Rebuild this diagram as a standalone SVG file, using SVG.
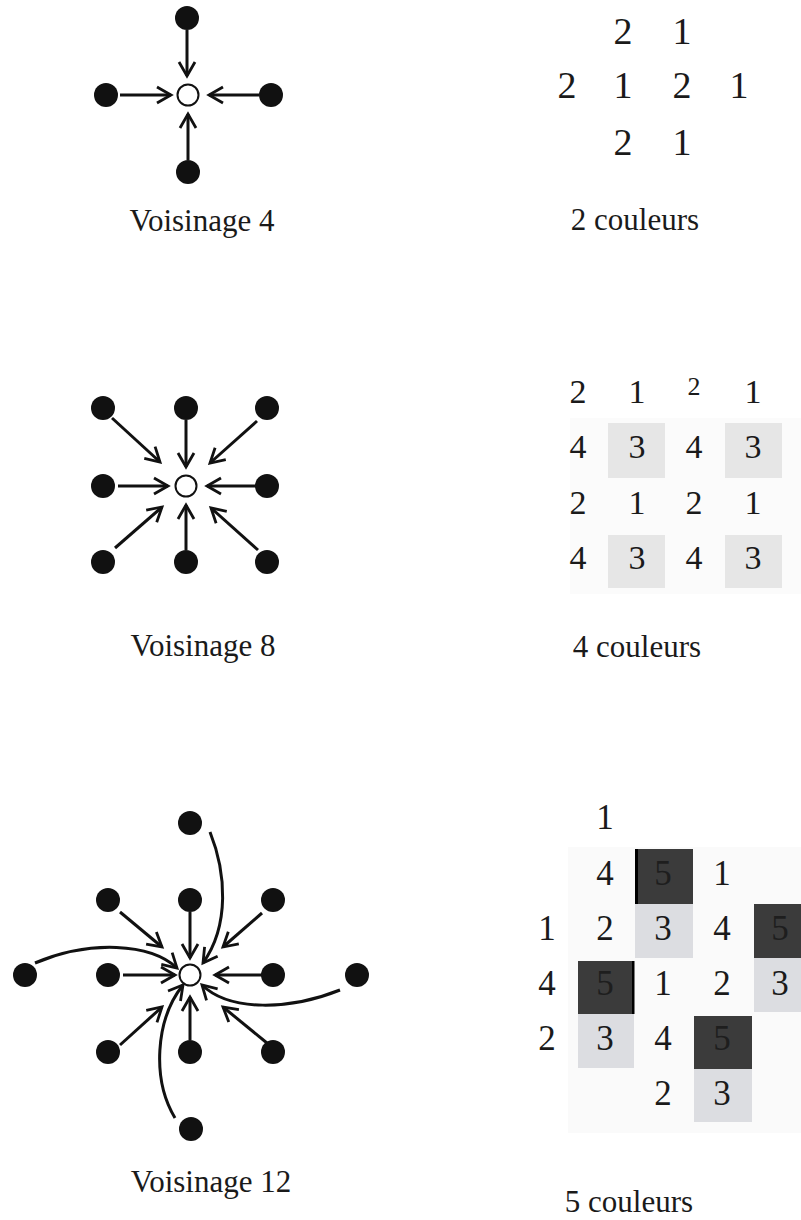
<svg xmlns="http://www.w3.org/2000/svg" width="801" height="1220" viewBox="0 0 801 1220">
<style>
.dot{fill:#111}
.ctr{fill:#fff;stroke:#111;stroke-width:2}
.lbl{font-family:"Liberation Serif",serif;font-size:31px;fill:#1a1a1a;text-anchor:middle}
.num{font-family:"Liberation Serif",serif;fill:#1a1a1a;text-anchor:middle}
.g1{font-size:38px}
.g2{font-size:34px}
.g3{font-size:35px}
.ar{fill:none;stroke:#111;stroke-width:3;marker-end:url(#ah)}
.lt{fill:#e6e6e6}
.lb{fill:#dcdde1}
.dk{fill:#3b3b3b}
</style>
<defs>
<marker id="ah" markerUnits="userSpaceOnUse" markerWidth="22" markerHeight="22" refX="17" refY="11" orient="auto">
<path d="M3 3 L17 11 L3 19" fill="none" stroke="#111" stroke-width="2.8"/>
</marker>
</defs>
<rect width="801" height="1220" fill="#fff"/>

<!-- Voisinage 4 -->
<g id="v4">
<circle class="dot" cx="187" cy="18" r="12"/>
<circle class="dot" cx="188" cy="172" r="12"/>
<circle class="dot" cx="106" cy="95" r="12"/>
<circle class="dot" cx="271" cy="95" r="12"/>
<circle class="ctr" cx="188" cy="95" r="10.5"/>
</g>
<g id="v4-connectors">
<path class="ar" d="M187 30 L187 76"/>
<path class="ar" d="M120 95 L171 95"/>
<path class="ar" d="M259 95 L209 95"/>
<path class="ar" d="M188 160 L188 114"/>
</g>
<text class="lbl" x="202" y="231">Voisinage 4</text>

<g id="grid2" class="num g1">
<text x="623" y="44">2</text><text x="682" y="44">1</text>
<text x="567" y="98">2</text><text x="623" y="98">1</text><text x="682" y="98">2</text><text x="739" y="98">1</text>
<text x="623" y="155">2</text><text x="682" y="155">1</text>
</g>
<text class="lbl" x="635" y="230">2 couleurs</text>

<!-- Voisinage 8 -->
<g id="v8">
<circle class="dot" cx="103" cy="408" r="12"/>
<circle class="dot" cx="186" cy="408" r="12"/>
<circle class="dot" cx="267" cy="408" r="12"/>
<circle class="dot" cx="103" cy="486" r="12"/>
<circle class="dot" cx="267" cy="486" r="12"/>
<circle class="dot" cx="103" cy="562" r="12"/>
<circle class="dot" cx="186" cy="562" r="12"/>
<circle class="dot" cx="267" cy="562" r="12"/>
<circle class="ctr" cx="186" cy="486" r="10.5"/>
</g>
<g id="v8-connectors">
<path class="ar" d="M112 418 L160 462"/>
<path class="ar" d="M186 420 L186 467"/>
<path class="ar" d="M257 421 L210 463"/>
<path class="ar" d="M118 486 L168 486"/>
<path class="ar" d="M256 486 L207 486"/>
<path class="ar" d="M115 548 L162 507"/>
<path class="ar" d="M186 550 L186 505"/>
<path class="ar" d="M258 550 L211 508"/>
</g>
<text class="lbl" x="203" y="656">Voisinage 8</text>

<g id="grid4">
<rect x="570" y="418" width="231" height="176" fill="#fbfbfb"/>
<rect class="lt" x="608" y="423" width="57" height="55"/>
<rect class="lt" x="725" y="423" width="57" height="55"/>
<rect class="lt" x="608" y="535" width="57" height="53"/>
<rect class="lt" x="725" y="535" width="57" height="53"/>
<g class="num g2">
<text x="578" y="403">2</text><text x="637" y="403">1</text><text x="694" y="395" style="font-size:26px">2</text><text x="753" y="403">1</text>
<text x="578" y="458">4</text><text x="637" y="458">3</text><text x="694" y="458">4</text><text x="753" y="458">3</text>
<text x="578" y="514">2</text><text x="637" y="514">1</text><text x="694" y="514">2</text><text x="753" y="514">1</text>
<text x="578" y="569">4</text><text x="637" y="569">3</text><text x="694" y="569">4</text><text x="753" y="569">3</text>
</g>
</g>
<text class="lbl" x="637" y="657">4 couleurs</text>

<!-- Voisinage 12 -->
<g id="v12">
<circle class="dot" cx="190" cy="823" r="12"/>
<circle class="dot" cx="108" cy="900" r="12"/>
<circle class="dot" cx="190" cy="900" r="12"/>
<circle class="dot" cx="273" cy="900" r="12"/>
<circle class="dot" cx="25" cy="975" r="12"/>
<circle class="dot" cx="108" cy="975" r="12"/>
<circle class="dot" cx="273" cy="975" r="12"/>
<circle class="dot" cx="357" cy="975" r="12"/>
<circle class="dot" cx="108" cy="1052" r="12"/>
<circle class="dot" cx="190" cy="1052" r="12"/>
<circle class="dot" cx="273" cy="1052" r="12"/>
<circle class="dot" cx="191" cy="1129" r="12"/>
<circle class="ctr" cx="190" cy="975" r="10.5"/>
</g>
<g id="v12-connectors">
<path class="ar" d="M120 912 L162 947"/>
<path class="ar" d="M190 912 L190 958"/>
<path class="ar" d="M262 913 L223 947"/>
<path class="ar" d="M123 975 L175 975"/>
<path class="ar" d="M263 975 L215 975"/>
<path class="ar" d="M120 1045 L162 1007"/>
<path class="ar" d="M190 1040 L190 997"/>
<path class="ar" d="M267 1043 L223 1007"/>
<path class="ar" d="M210 832 C226 872 230 925 203 963"/>
<path class="ar" d="M35 963 C90 940 150 943 177 968"/>
<path class="ar" d="M340 990 C290 1010 230 1012 202 985"/>
<path class="ar" d="M175 1118 C152 1080 155 1020 183 985"/>
</g>
<text class="lbl" x="211" y="1192">Voisinage 12</text>

<g id="grid5">
<rect x="568" y="847" width="233" height="286" fill="#fafafa"/>
<rect class="dk" x="635" y="849" width="58" height="55"/>
<rect x="635" y="849" width="3" height="55" fill="#000"/>
<rect class="lb" x="635" y="904" width="58" height="54"/>
<rect class="dk" x="754" y="904" width="47" height="54"/>
<rect class="lb" x="754" y="958" width="47" height="54"/>
<rect class="dk" x="578" y="961" width="56" height="53"/>
<rect x="632" y="961" width="2.5" height="53" fill="#000"/>
<rect class="lb" x="578" y="1014" width="56" height="54"/>
<rect class="dk" x="694" y="1016" width="58" height="53"/>
<rect class="lb" x="694" y="1069" width="58" height="53"/>
<g class="num g3">
<text x="605" y="829">1</text>
<text x="605" y="885">4</text><text x="663" y="885" fill="#1e1e1e">5</text><text x="722" y="885">1</text>
<text x="547" y="940">1</text><text x="605" y="940">2</text><text x="663" y="940">3</text><text x="722" y="940">4</text><text x="780" y="940" fill="#1e1e1e">5</text>
<text x="547" y="995">4</text><text x="605" y="995" fill="#1e1e1e">5</text><text x="663" y="995">1</text><text x="722" y="995">2</text><text x="780" y="995">3</text>
<text x="547" y="1050">2</text><text x="605" y="1050">3</text><text x="663" y="1050">4</text><text x="722" y="1050" fill="#1e1e1e">5</text>
<text x="663" y="1105">2</text><text x="722" y="1105">3</text>
</g>
</g>
<text class="lbl" x="629" y="1212">5 couleurs</text>
</svg>
